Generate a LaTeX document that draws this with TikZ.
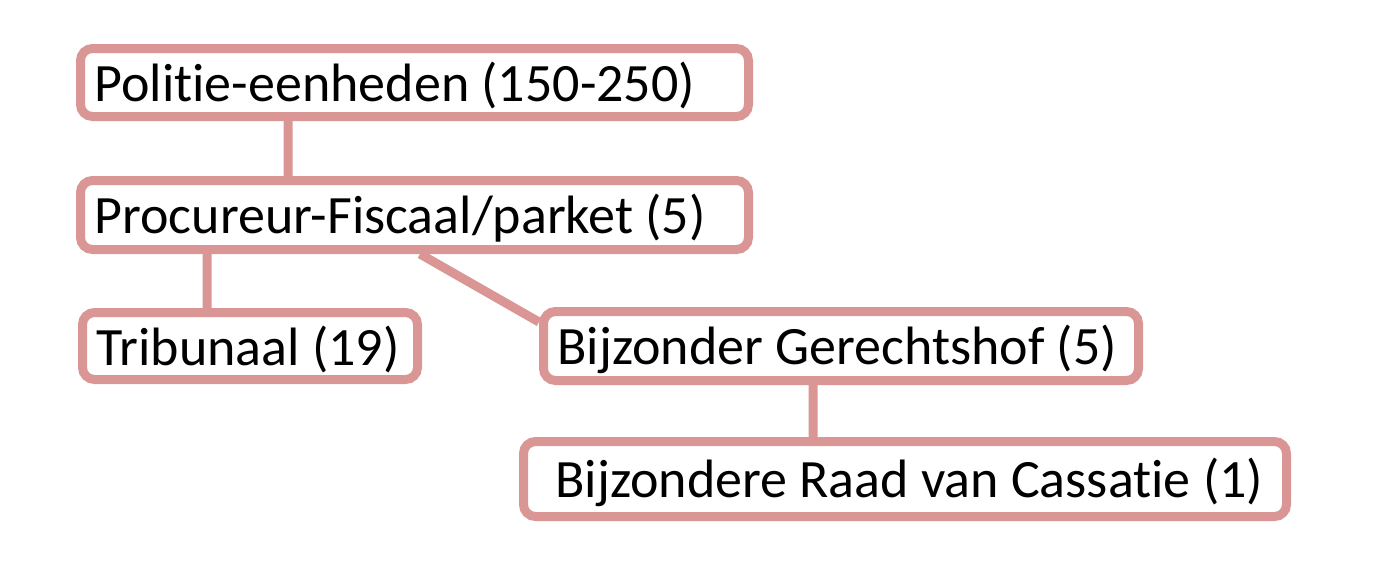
\documentclass[tikz,border=0pt]{standalone}
\usepackage{fontspec}
\setmainfont{Carlito}[Ligatures=NoCommon]
\usetikzlibrary{positioning, backgrounds}
\definecolor{roze}{HTML}{D99694}

\begin{document}
\begin{tikzpicture}[x=1pt,y=-1pt,
    orgbox/.style={draw=roze,fill=white,line width=9pt,rounded corners=12pt,
      anchor=north west,inner xsep=14pt,inner ysep=0pt,align=flush left,
      font=\fontsize{54}{60}\selectfont,minimum height=68pt,text height=46pt},
    link/.style={draw=roze,line width=9pt}]
      \useasboundingbox (0,0) rectangle (1374,571);
      \node[orgbox,text width=640pt] (politie) at (76,44) {Politie-eenheden (150-250)};
      \node[orgbox,text width=640pt,minimum height=69pt] (parket) at (76,176) {Procureur-Fiscaal/parket (5)};
      \node[orgbox,text width=307pt,minimum height=67pt] (tribunaal) at (78,308) {Tribunaal (19)};
      \node[orgbox,text width=567pt,minimum height=69pt] (gerecht) at (539,307) {Bijzonder Gerechtshof (5)};
      \node[orgbox,text width=735pt,minimum height=75pt] (raad) at (519,437) {\hspace*{18pt}Bijzondere Raad van Cassatie (1)};
      \begin{scope}[on background layer]
        \path[link] (politie.south -| 288,0) -- (parket.north -| 288,0)
          (parket.south -| 207,0) -- (tribunaal.north -| 207,0)
          (parket.south -| 420,0) -- (gerecht.west |- 0,322)
          (gerecht.south -| 813,0) -- (raad.north -| 813,0);
      \end{scope}
    \end{tikzpicture}
\end{document}
